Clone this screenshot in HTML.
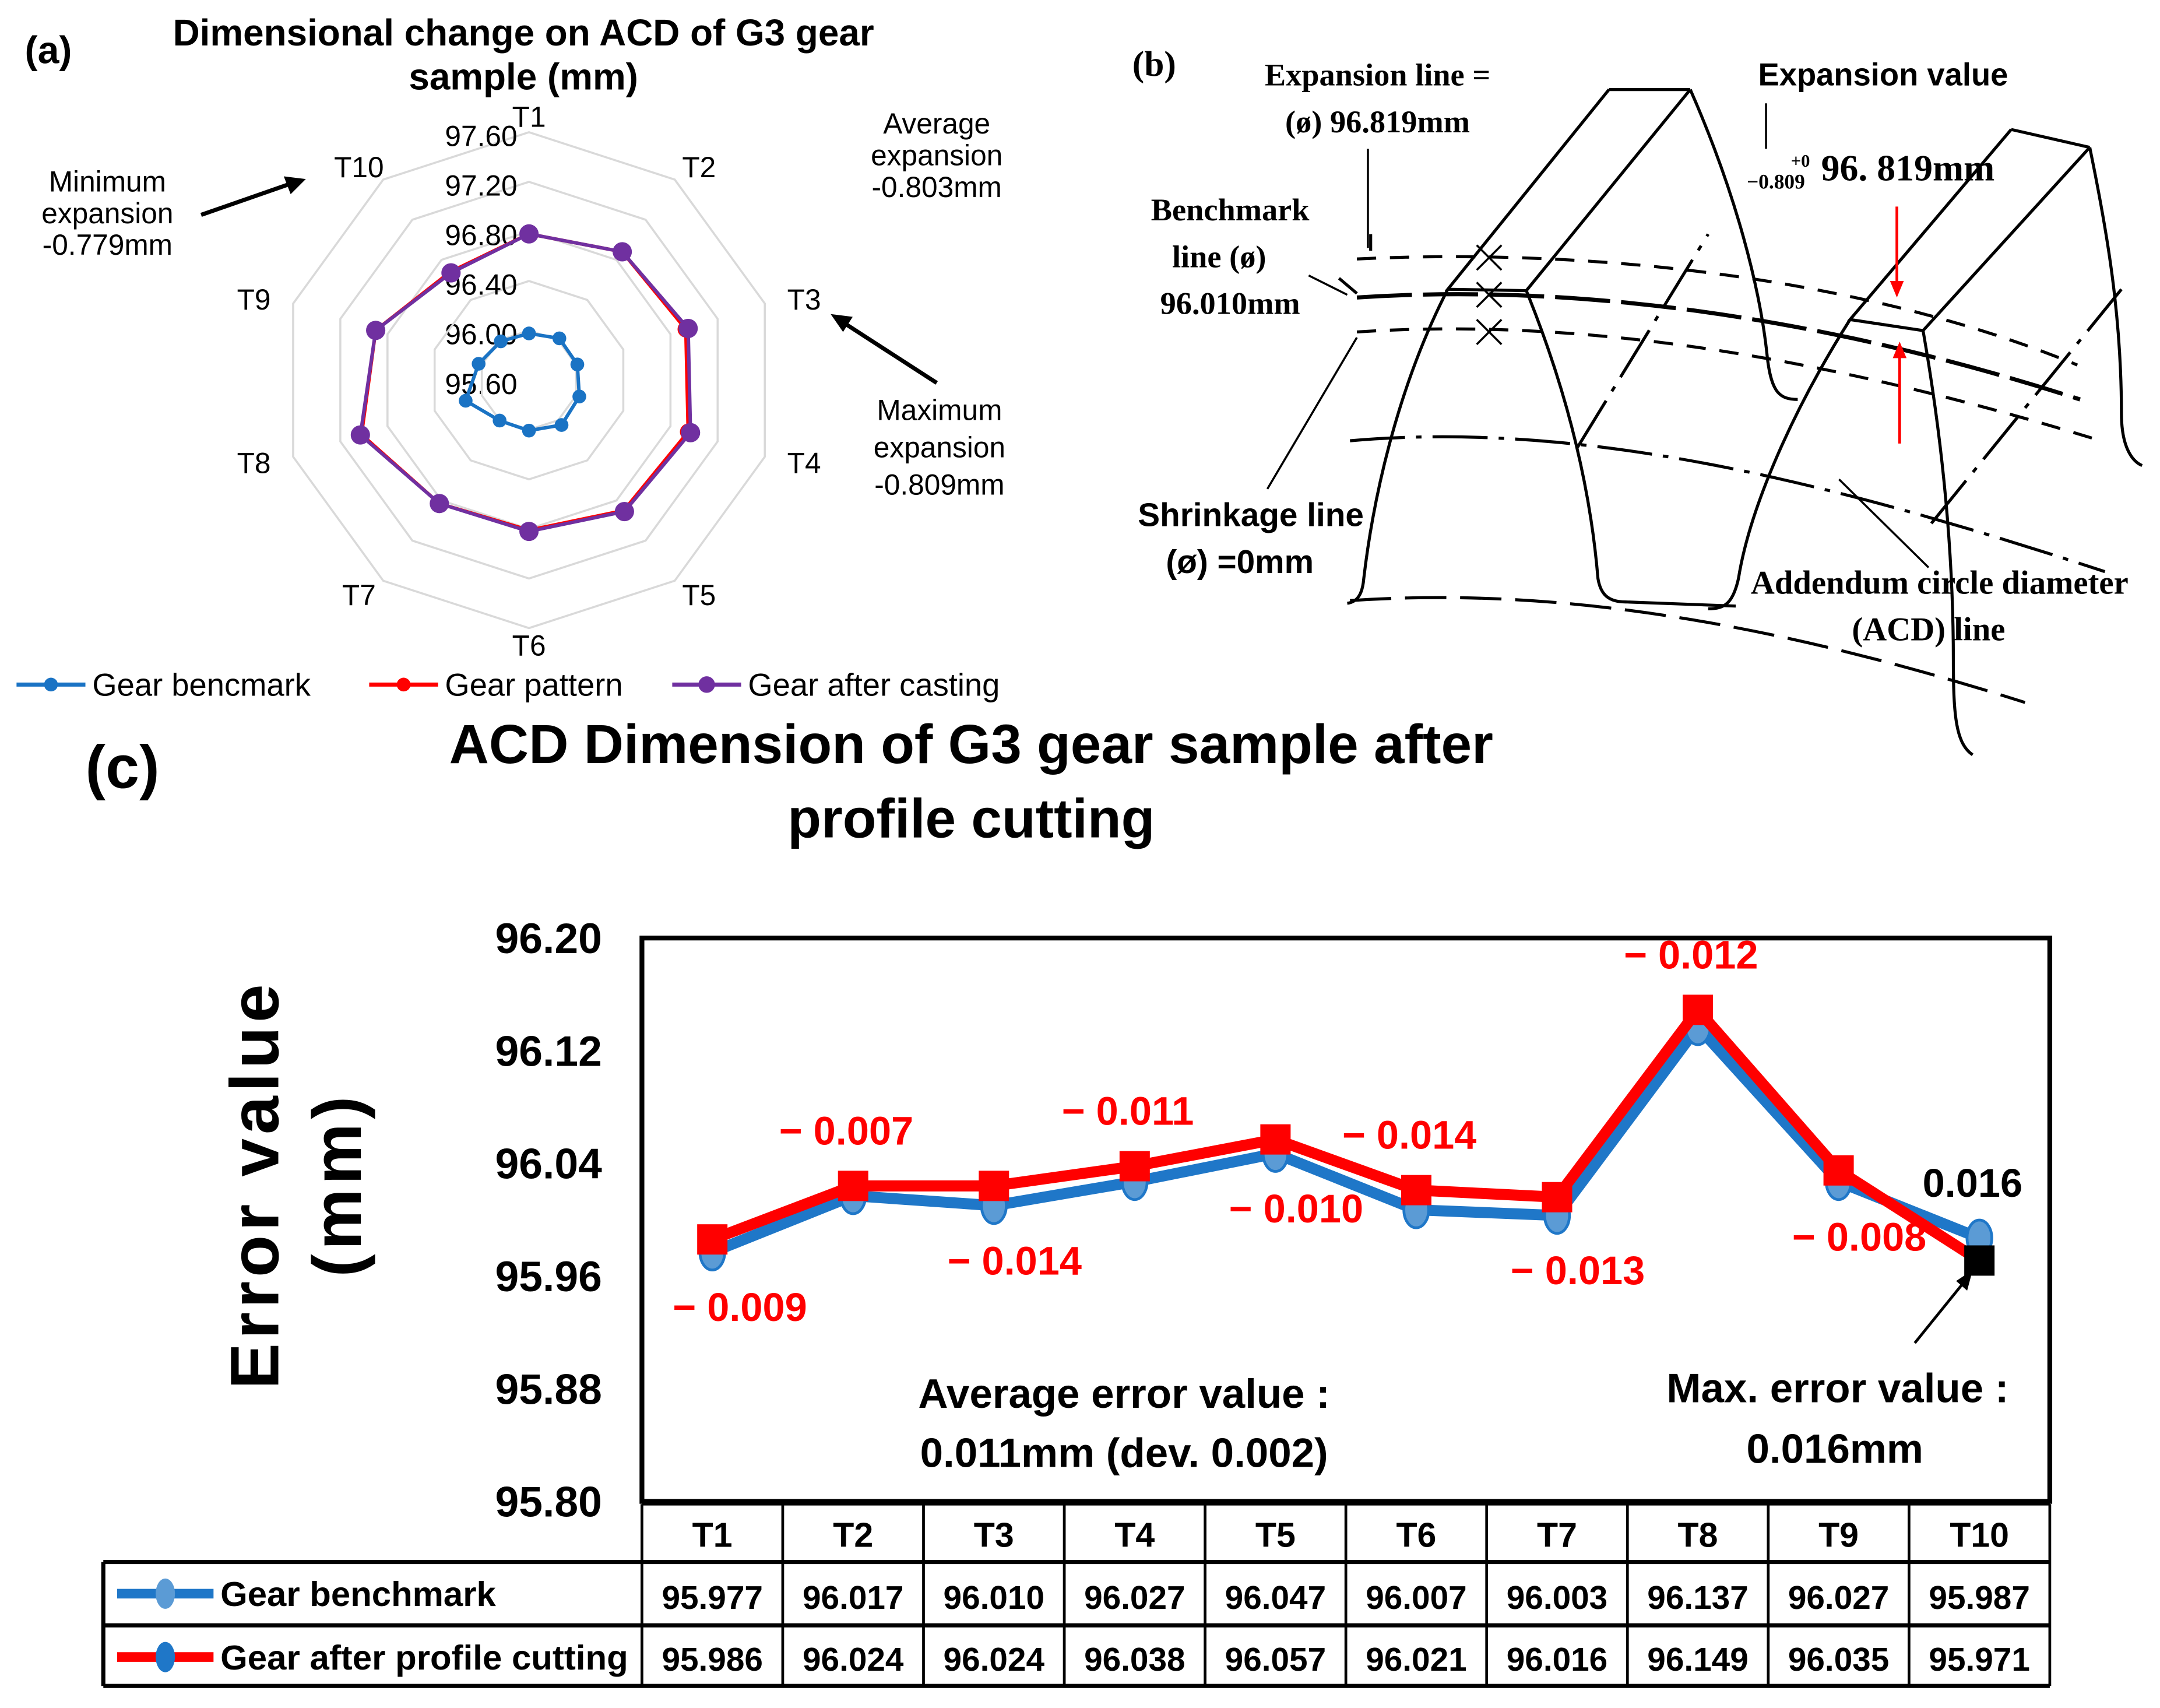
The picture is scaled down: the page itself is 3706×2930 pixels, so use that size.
<!DOCTYPE html>
<html><head><meta charset="utf-8"><style>
html,body{margin:0;padding:0;background:#fff;}
svg{display:block;}
text{font-family:"Liberation Sans",sans-serif;}
.serif{font-family:"Liberation Serif",serif;}
</style></head><body>
<svg id="fig" width="3706" height="2930" viewBox="0 0 1568 1240" preserveAspectRatio="none" xmlns="http://www.w3.org/2000/svg">
<rect width="1568" height="1240" fill="#fff"/>

<!-- Panel A -->
<g id="panelA">
 <text x="18" y="46" font-size="28" font-weight="bold">(a)</text>
 <text x="380" y="33" font-size="27" font-weight="bold" text-anchor="middle">Dimensional  change on ACD of G3 gear</text>
 <text x="380" y="65" font-size="27" font-weight="bold" text-anchor="middle">sample (mm)</text>
 <g id="radarGrid"></g>
 <g id="radarSeries"></g>
 <text x="78" y="139" font-size="21" text-anchor="middle">Minimum</text>
 <text x="78" y="162" font-size="21" text-anchor="middle">expansion</text>
 <text x="78" y="185" font-size="21" text-anchor="middle">-0.779mm</text>
 <line x1="146" y1="156" x2="212" y2="133" stroke="#000" stroke-width="3"/>
 <polygon points="222,130 206,128 211,141" fill="#000"/>
 <text x="680" y="97" font-size="21" text-anchor="middle">Average</text>
 <text x="680" y="120" font-size="21" text-anchor="middle">expansion</text>
 <text x="680" y="143" font-size="21" text-anchor="middle">-0.803mm</text>
 <text x="682" y="305" font-size="21" text-anchor="middle">Maximum</text>
 <text x="682" y="332" font-size="21" text-anchor="middle">expansion</text>
 <text x="682" y="359" font-size="21" text-anchor="middle">-0.809mm</text>
 <line x1="680" y1="278" x2="612" y2="234" stroke="#000" stroke-width="3"/>
 <polygon points="603,228 619,230 612,241" fill="#000"/>
 <g>
  <line x1="12" y1="497" x2="62" y2="497" stroke="#1a73c4" stroke-width="3"/>
  <circle cx="37" cy="497" r="5" fill="#1a73c4"/>
  <text x="67" y="505" font-size="23">Gear bencmark</text>
  <line x1="268" y1="497" x2="318" y2="497" stroke="#f00" stroke-width="3"/>
  <circle cx="293" cy="497" r="5" fill="#f00"/>
  <text x="323" y="505" font-size="23">Gear pattern</text>
  <line x1="488" y1="497" x2="538" y2="497" stroke="#7030a0" stroke-width="3"/>
  <circle cx="513" cy="497" r="6" fill="#7030a0"/>
  <text x="543" y="505" font-size="23">Gear after casting</text>
 </g>
</g>

<!-- Panel B -->
<g id="panelB" fill="none" stroke="#000" stroke-width="2.2">
 <text x="822" y="55" font-size="26" font-weight="bold" class="serif" fill="#000" stroke="none">(b)</text>
 <text x="1000" y="62" font-size="23" font-weight="bold" class="serif" text-anchor="middle" fill="#000" stroke="none">Expansion line =</text>
 <text x="1000" y="96" font-size="23" font-weight="bold" class="serif" text-anchor="middle" fill="#000" stroke="none">(ø) 96.819mm</text>
 <text x="1367" y="62" font-size="23" font-weight="bold" text-anchor="middle" fill="#000" stroke="none">Expansion value</text>
 <text x="1300" y="121" font-size="13" font-weight="bold" class="serif" fill="#000" stroke="none">+0</text>
 <text x="1268" y="137" font-size="15" font-weight="bold" class="serif" fill="#000" stroke="none">−0.809</text>
 <text x="1322" y="131" font-size="27" font-weight="bold" class="serif" fill="#000" stroke="none">96. 819mm</text>
 <text x="893" y="160" font-size="23" font-weight="bold" class="serif" text-anchor="middle" fill="#000" stroke="none">Benchmark</text>
 <text x="885" y="194" font-size="23" font-weight="bold" class="serif" text-anchor="middle" fill="#000" stroke="none">line (ø)</text>
 <text x="893" y="228" font-size="23" font-weight="bold" class="serif" text-anchor="middle" fill="#000" stroke="none">96.010mm</text>
 <text x="908" y="382" font-size="24" font-weight="bold" text-anchor="middle" fill="#000" stroke="none">Shrinkage line</text>
 <text x="900" y="416" font-size="24" font-weight="bold" text-anchor="middle" fill="#000" stroke="none">(ø) =0mm</text>
 <text x="1408" y="431" font-size="24" font-weight="bold" class="serif" text-anchor="middle" fill="#000" stroke="none">Addendum circle diameter</text>
 <text x="1400" y="465" font-size="24" font-weight="bold" class="serif" text-anchor="middle" fill="#000" stroke="none">(ACD) line</text>
 <path d="M1168 65 L1227 65 M1168 65 L1051 210 L1108 211 L1227 65"/>
 <path d="M1051 210 C1015 280,997 360,990 420 C989 432,985 437,978 438"/>
 <path d="M1108 211 C1140 290,1155 360,1160 420 C1162 432,1168 437,1180 437 L1260 440"/>
 <path d="M1227 65 C1260 140,1278 210,1283 260 C1286 285,1292 290,1305 290"/>
 <path d="M1460 94 L1517 107 M1460 94 L1343 232 L1396 240 L1517 107"/>
 <path d="M1343 232 C1300 300,1270 370,1262 420 C1258 438,1252 442,1240 442"/>
 <path d="M1396 240 C1410 320,1418 400,1418 480 C1418 520,1420 540,1432 548"/>
 <path d="M1517 107 C1530 170,1540 230,1540 300 C1540 325,1548 335,1555 338"/>
 <path d="M985 188 C1150 180,1350 200,1508 265" stroke-dasharray="14,10"/>
 <path d="M985 216 C1150 205,1330 232,1510 290" stroke-width="3" stroke-dasharray="40,8"/>
 <path d="M985 241 C1150 230,1330 260,1525 320" stroke-dasharray="14,10"/>
 <path d="M980 320 C1150 305,1330 350,1528 415" stroke-dasharray="40,8,4,8"/>
 <path d="M980 436 C1100 428,1250 440,1470 510" stroke-dasharray="30,10"/>
 <path d="M1145 325 L1240 170 M1402 380 L1540 210" stroke-dasharray="40,8,4,8"/>
 <path d="M1072 178 L1090 196 M1090 178 L1072 196 M1072 205 L1090 223 M1090 205 L1072 223 M1072 232 L1090 250 M1090 232 L1072 250" stroke-width="1.5"/>
 <path d="M995 182 L995 170 M985 213 L972 202"/>
 <line x1="993" y1="108" x2="993" y2="180" stroke-width="1.5"/>
 <line x1="950" y1="200" x2="978" y2="214" stroke-width="1.5"/>
 <line x1="920" y1="355" x2="985" y2="245" stroke-width="1.5"/>
 <line x1="1400" y1="412" x2="1335" y2="348" stroke-width="1.5"/>
 <line x1="1282" y1="75" x2="1282" y2="108" stroke-width="1.5"/>
 <line x1="1377" y1="150" x2="1377" y2="212" stroke="#f00" stroke-width="2"/>
 <polygon points="1372,204 1382,204 1377,216" fill="#f00" stroke="none"/>
 <line x1="1379" y1="252" x2="1379" y2="322" stroke="#f00" stroke-width="2"/>
 <polygon points="1374,260 1384,260 1379,248" fill="#f00" stroke="none"/>
</g>

<!-- Panel C -->
<g id="panelC">
 <text x="62" y="572" font-size="44" font-weight="bold">(c)</text>
 <text x="705" y="554" font-size="40" font-weight="bold" text-anchor="middle">ACD Dimension of G3 gear sample after</text>
 <text x="705" y="608" font-size="40" font-weight="bold" text-anchor="middle">profile cutting</text>
 <text transform="translate(202,860) rotate(-90)" font-size="50" font-weight="bold" text-anchor="middle" letter-spacing="3">Error value</text>
 <text transform="translate(262,860) rotate(-90)" font-size="50" font-weight="bold" text-anchor="middle" letter-spacing="3">(mm)</text>
 <g id="yTicks"></g>
 <rect x="466" y="681" width="1022" height="409" fill="none" stroke="#000" stroke-width="3.5"/>
 <g id="series"></g>
 <g id="labels"></g>
 <line x1="1390" y1="975" x2="1428" y2="928" stroke="#000" stroke-width="2"/>
 <polygon points="1432,922 1420,930 1428,937" fill="#000"/>
 <text x="816" y="1022" font-size="30" font-weight="bold" text-anchor="middle">Average error value :</text>
 <text x="816" y="1065" font-size="30" font-weight="bold" text-anchor="middle">0.011mm (dev. 0.002)</text>
 <text x="1334" y="1018" font-size="30" font-weight="bold" text-anchor="middle">Max. error value :</text>
 <text x="1332" y="1062" font-size="30" font-weight="bold" text-anchor="middle">0.016mm</text>
 <g id="table"></g>
</g>
</svg>
<script>
const NS="http://www.w3.org/2000/svg";
// ---- radar data ----
const radarCats=["T1","T2","T3","T4","T5","T6","T7","T8","T9","T10"];
const radarTicks=["95.60","96.00","96.40","96.80","97.20","97.60"];
const radarBenchmark=[95.977,96.017,96.010,96.027,96.047,96.007,96.003,96.137,96.027,95.987];
const radarPattern=[96.78,96.88,96.93,96.95,96.90,96.81,96.83,97.02,96.90,96.68];
const radarCasting=[96.78,96.88,96.95,96.97,96.91,96.82,96.83,97.03,96.90,96.67];
// ---- line chart data ----
const categories=["T1","T2","T3","T4","T5","T6","T7","T8","T9","T10"];
const benchmark=[95.977,96.017,96.010,96.027,96.047,96.007,96.003,96.137,96.027,95.987];
const afterCutting=[95.986,96.024,96.024,96.038,96.057,96.021,96.016,96.149,96.035,95.971];
const errorLabels=["-0.009","-0.007","-0.014","-0.011","-0.010","-0.014","-0.013","-0.012","-0.008","0.016"];
const yTicks=[95.80,95.88,95.96,96.04,96.12,96.20];

function el(tag,attrs,parent,txt){const e=document.createElementNS(NS,tag);for(const k in attrs)e.setAttribute(k,attrs[k]);if(txt!==undefined)e.textContent=txt;parent.appendChild(e);return e;}

// radar
const cx=384,cy=276,rMax=180,rMin=95.6,rTop=97.6;
const rr=v=>(v-rMin)/(rTop-rMin)*rMax;
const ang=i=>-Math.PI/2+i*2*Math.PI/10;
const pt=(i,v)=>[cx+rr(v)*Math.cos(ang(i)),cy+rr(v)*Math.sin(ang(i))];
const rg=document.getElementById('radarGrid');
radarTicks.forEach((t,k)=>{
 const v=parseFloat(t);
 if(k>0){const p=el('polygon',{points:radarCats.map((c,i)=>pt(i,v).join(',')).join(' '),fill:'none',stroke:'#d9d9d9','stroke-width':1.5},rg);
 
 }
 const tx=el('text',{x:cx-61,y:cy-rr(v)+10,'font-size':21},rg,t);
 
 
});
radarCats.forEach((c,i)=>{
 const px=cx+210*Math.cos(ang(i)),py=cy+192*Math.sin(ang(i));
 const tx=el('text',{x:px,y:py+8,'font-size':21,'text-anchor':'middle'},rg,c);
 
 
});
const rs=document.getElementById('radarSeries');
[[radarBenchmark,'#1a73c4',5],[radarPattern,'#f00',6],[radarCasting,'#7030a0',7]].forEach(([d,col,r])=>{
 const pts=d.map((v,i)=>pt(i,v));
 const pl=el('polygon',{points:pts.map(p=>p.join(',')).join(' '),fill:'none',stroke:col,'stroke-width':2.5},rs);
 
 
 pts.forEach(p=>{const c=el('circle',{cx:p[0],cy:p[1],r:r,fill:col},rs);
 
 });
});

// line chart
const x0=466,colW=102.2,y0=1090,yH=409;
const X=i=>x0+colW*(i+0.5);
const Y=v=>y0-(v-95.80)/0.40*yH;
const yt=document.getElementById('yTicks');
yTicks.forEach(t=>{const tx=el('text',{x:437,y:Y(t)+11,'font-size':31,'font-weight':'bold','text-anchor':'end'},yt,t.toFixed(2));
 
 });
const sg=document.getElementById('series');
function line(d,col,w,name){const p=el('polyline',{points:d.map((v,i)=>X(i)+','+Y(v)).join(' '),fill:'none',stroke:col,'stroke-width':w,'stroke-linejoin':'round'},sg);
 
 }
function ebars(d){d.forEach((v,i)=>{const g=el('path',{d:`M${X(i)} ${Y(v+0.009)}V${Y(v-0.009)}M${X(i)-5} ${Y(v+0.009)}H${X(i)+5}M${X(i)-5} ${Y(v-0.009)}H${X(i)+5}`,stroke:'#555','stroke-width':1.8,fill:'none'},sg);
 
 });}
line(benchmark,'#1f77c8',8,'benchmark-line');
ebars(benchmark);
benchmark.forEach((v,i)=>{const e=el('ellipse',{cx:X(i),cy:Y(v),rx:9,ry:13,fill:'#5b9bd5',stroke:'#1f77c8','stroke-width':2},sg);
 
 });
line(afterCutting,'#ff0000',8,'after-cutting-line');
afterCutting.forEach((v,i)=>{const last=i===afterCutting.length-1;const r=el('rect',{x:X(i)-11,y:Y(v)-11,width:22,height:22,fill:last?'#000':'#f00'},sg);
 
 });
const lg=document.getElementById('labels');
errorLabels.forEach((t,i)=>{
 const above=[false,true,false,true,false,true,false,true,false,true][i];
 const top=Math.max(benchmark[i],afterCutting[i]),bot=Math.min(benchmark[i],afterCutting[i]);
 const y=above?Y(top)-30:Y(bot)+50;
 const neg=t[0]==='-';
 const tx=el('text',{x:X(i)+(i===0?20:i===9?-5:(above?-5:15)),y:y,'font-size':29,'font-weight':'bold','text-anchor':'middle',fill:neg?'#f00':'#000'},lg,neg?'− '+t.slice(1):t);
 
 
});
// table
const tb=document.getElementById('table');
function L(x1,y1,x2,y2,w){const l=el('line',{x1,y1,x2,y2,stroke:'#000','stroke-width':w},tb);
 
 }
L(466,1092,1488,1092,2);L(75,1134,1488,1134,3);L(75,1180,1488,1180,3);L(75,1224,1488,1224,3);
L(75,1134,75,1224,3);
for(let i=0;i<=10;i++)L(x0+colW*i,1092,x0+colW*i,1224,2);
categories.forEach((c,i)=>{const t=el('text',{x:X(i),y:1123,'font-size':25,'font-weight':'bold','text-anchor':'middle'},tb,c);
 
 });
benchmark.forEach((v,i)=>{const t=el('text',{x:X(i),y:1168,'font-size':24,'font-weight':'bold','text-anchor':'middle'},tb,v.toFixed(3));
 
 });
afterCutting.forEach((v,i)=>{const t=el('text',{x:X(i),y:1213,'font-size':24,'font-weight':'bold','text-anchor':'middle'},tb,v.toFixed(3));
 
 });
[[1157,'#1f77c8','#5b9bd5','Gear benchmark','table-legend-benchmark'],[1203,'#f00','#1f77c8','Gear after profile cutting','table-legend-cutting']].forEach(([y,c,m,t,n])=>{
 const l=el('line',{x1:85,y1:y,x2:155,y2:y,stroke:c,'stroke-width':7},tb);
 
 
 const e=el('ellipse',{cx:120,cy:y,rx:7,ry:11,fill:m},tb);
 
 
 const tx=el('text',{x:160,y:y+9,'font-size':25,'font-weight':'bold',textLength:t.length>15?296:200,lengthAdjust:'spacingAndGlyphs'},tb,t);
 
 
});
</script>
</body></html>
